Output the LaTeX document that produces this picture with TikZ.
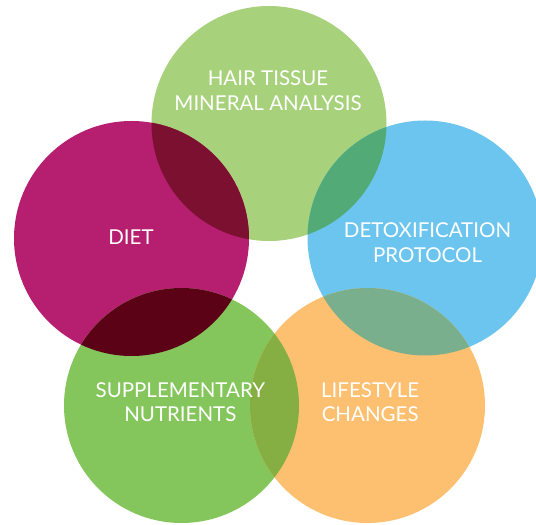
\documentclass[tikz,border=0pt]{standalone}
\usepackage{fontspec}
\setmainfont{Lato}
\usepackage{tikz}

\definecolor{hairgreen}{HTML}{A7D17B}
\definecolor{dietred}{HTML}{B61F70}
\definecolor{detoxblue}{HTML}{6CC5EE}
\definecolor{suppgreen}{HTML}{84C65C}
\definecolor{lifeorange}{HTML}{FCC070}
\definecolor{hairdiet}{HTML}{7C1030}
\definecolor{hairdetox}{HTML}{52AA76}
\definecolor{dietsupp}{HTML}{5C0216}
\definecolor{detoxlife}{HTML}{7AAF8D}
\definecolor{supplife}{HTML}{85AE43}

\begin{document}
\begin{tikzpicture}[x=1pt, y=1pt,
	petal/.style={circle, minimum size=235pt, inner sep=0pt},
	label/.style={text=white, align=center, font=\fontsize{20.5}{24.5}\selectfont}]
\useasboundingbox (0,0) rectangle (536,525);
\begin{scope}
\clip (0,0) rectangle (536,525);
\node[petal, fill=hairgreen] (hair) at (269,401.5) {};
\node[petal, fill=dietred] (diet) at (131.5,286.5) {};
\node[petal, fill=detoxblue] (detox) at (425,287) {};
\node[petal, fill=suppgreen] (supp) at (181.5,119.5) {};
\node[petal, fill=lifeorange] (life) at (367.5,119.5) {};
% overlaps
\begin{scope}
	\clip (hair.center) circle (117.5);
	\fill[hairdiet] (diet.center) circle (117.5);
	\fill[hairdetox] (detox.center) circle (117.5);
\end{scope}
\begin{scope}
	\clip (supp.center) circle (117.5);
	\fill[dietsupp] (diet.center) circle (117.5);
	\fill[supplife] (life.center) circle (117.5);
\end{scope}
\begin{scope}
	\clip (detox.center) circle (117.5);
	\fill[detoxlife] (life.center) circle (117.5);
\end{scope}
\end{scope}
\node[label] (hairtext) at (268,434.3) {HAIR TISSUE\\MINERAL ANALYSIS};
\node[label] (diettext) at (131,288) {DIET};
\node[label] (detoxtext) at (427.5,282.5) {DETOXIFICATION\\PROTOCOL};
\node[label] (supptext) at (180.3,122.8) {SUPPLEMENTARY\\NUTRIENTS};
\node[label] (lifetext) at (370.2,122.8) {LIFESTYLE\\CHANGES};
\end{tikzpicture}
\end{document}
